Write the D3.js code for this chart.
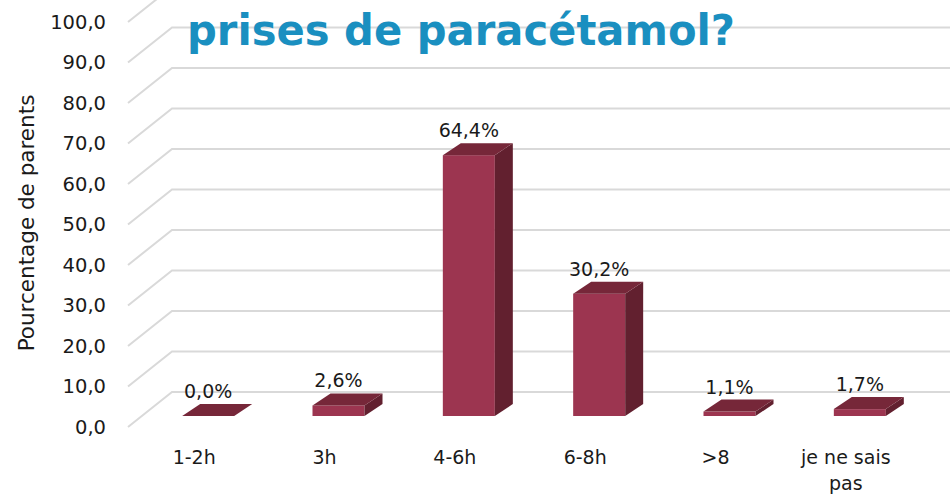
<!DOCTYPE html>
<html>
<head>
<meta charset="utf-8">
<script src="https://cdn.jsdelivr.net/npm/d3@7"></script>
<style>
  body { margin: 0; background: #fff; }
  text { font-family: "DejaVu Sans", sans-serif; }
</style>
</head>
<body>
<svg id="chart" width="950" height="500"></svg>
<script>
// data
const categories = ["1-2h", "3h", "4-6h", "6-8h", ">8", "je ne sais pas"];
const values = [0.0, 2.6, 64.4, 30.2, 1.1, 1.7];
const yTicks = [0, 10, 20, 30, 40, 50, 60, 70, 80, 90, 100];
const titleText = "prises de paracétamol?";
const yTitle = "Pourcentage de parents";

const svg = d3.select("#chart");
const fr = d3.formatLocale({ decimal: ",", thousands: " ", grouping: [3], currency: ["", " €"] });
const fmt = fr.format(".1f");

// front plane of the chart and offset of the back wall
const yFront = d3.scaleLinear().domain([0, 100]).range([427, 22]);
const wallX = 44, wallY = -35;
// bars stand a bit behind the front plane
const yBar = d3.scaleLinear().domain([0, 100]).range([416, 11]);
const x = d3.scaleBand().domain(categories).range([143, 925]);
const barW = 52, depthX = 18, depthY = -12;

// gridlines: diagonal on the left wall + horizontal on the back wall
const grid = svg.append("g").attr("class", "grid")
  .attr("stroke", "#d9d9d9").attr("stroke-width", 2).attr("fill", "none");
grid.selectAll("path").data(yTicks).join("path")
  .attr("d", d => `M128,${yFront(d)}L${128 + wallX},${yFront(d) + wallY}L950,${yFront(d) + wallY}`);

// y tick labels
const yAxis = svg.append("g")
  .attr("transform", "translate(109,0)")
  .call(d3.axisLeft(yFront).tickValues(yTicks).tickFormat(fmt).tickSize(0));
yAxis.select(".domain").remove();
yAxis.selectAll("text")
  .attr("font-family", "DejaVu Sans").attr("font-size", 19.5).attr("fill", "#1a1a1a");

svg.append("text")
  .attr("transform", "translate(34,223) rotate(-90)")
  .attr("text-anchor", "middle")
  .attr("font-size", 21.5)
  .attr("fill", "#1a1a1a")
  .text(yTitle);

// bars
const bars = svg.append("g").selectAll("g").data(categories).join("g");
bars.each(function (c, i) {
  const g = d3.select(this);
  const cx = x(c) + x.bandwidth() / 2;
  const x0 = cx - barW / 2, x1 = cx + barW / 2;
  const yb = yBar(0), yt = yBar(values[i]);
  g.append("rect")
    .attr("x", x0).attr("y", yt).attr("width", barW).attr("height", yb - yt)
    .attr("fill", "#9c3550");
  g.append("path")
    .attr("d", `M${x1},${yb}L${x1 + depthX},${yb + depthY}L${x1 + depthX},${yt + depthY}L${x1},${yt}Z`)
    .attr("fill", "#62202f");
  g.append("path")
    .attr("d", `M${x0},${yt}L${x1},${yt}L${x1 + depthX},${yt + depthY}L${x0 + depthX},${yt + depthY}Z`)
    .attr("fill", "#762739");
  g.append("text")
    .attr("x", cx).attr("y", yt - 18)
    .attr("text-anchor", "middle")
    .attr("font-size", 19)
    .attr("fill", "#1a1a1a")
    .text(fmt(values[i]) + "%");
});

// category labels, long ones wrapped on two lines
const xAxis = svg.append("g")
  .attr("transform", "translate(-14,447)")
  .call(d3.axisBottom(x).tickSize(0));
xAxis.select(".domain").remove();
xAxis.selectAll("text")
  .attr("font-family", "DejaVu Sans").attr("font-size", 19).attr("fill", "#1a1a1a")
  .each(function (d) {
    const t = d3.select(this);
    if (d.length > 10) {
      const cut = d.lastIndexOf(" ");
      t.text(null);
      t.append("tspan").attr("x", 0).attr("dy", "0.71em").text(d.slice(0, cut));
      t.append("tspan").attr("x", 0).attr("dy", "1.42em").text(d.slice(cut + 1));
      t.attr("dy", null);
    }
  });

// title over the chart
svg.append("text")
  .attr("x", 187).attr("y", 45)
  .attr("font-size", 42)
  .attr("font-weight", "bold")
  .attr("fill", "#1a8fc0")
  .attr("textLength", 548)
  .attr("lengthAdjust", "spacingAndGlyphs")
  .text(titleText);
</script>
</body>
</html>
